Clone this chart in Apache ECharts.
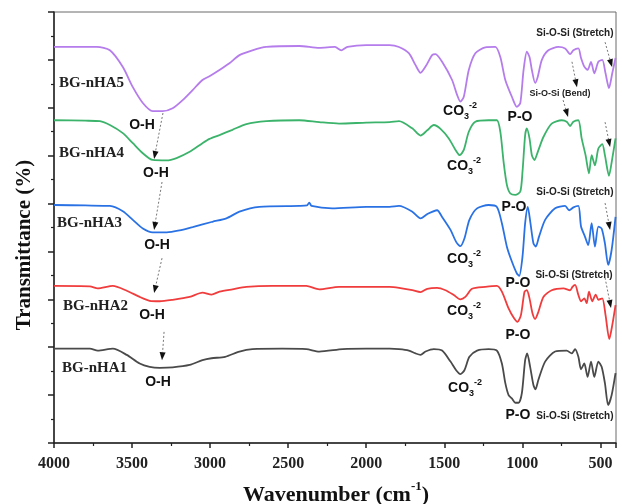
<!DOCTYPE html>
<html>
<head>
<meta charset="utf-8">
<script src="https://cdn.jsdelivr.net/npm/echarts/dist/echarts.min.js"></script>
<style>
  html, body { margin: 0; padding: 0; background: #fff; }
  #chart { width: 622px; height: 504px; }
</style>
</head>
<body>
<div id="chart"></div>
<script>
// FTIR spectra of the BG-nHA samples, stacked with vertical offsets.
// Each point: [wavenumber (cm^-1), transmittance (offset units)]
const bgnha5 = [[4000,8.27],[3800,8.27],[3725,8.27],[3642,8.20],[3559,7.85],[3495,7.43],[3431,7.10],[3368,6.93],[3304,6.93],[3240,6.99],[3176,7.16],[3112,7.37],[3049,7.58],[3004,7.66],[2940,7.79],[2876,7.93],[2812,8.10],[2729,8.20],[2640,8.27],[2429,8.29],[2301,8.25],[2200,8.27],[2160,8.20],[2120,8.27],[2000,8.31],[1850,8.31],[1790,8.27],[1727,8.14],[1684,7.89],[1652,7.73],[1620,7.86],[1578,8.10],[1556,8.12],[1514,7.96],[1450,7.58],[1418,7.27],[1397,7.13],[1375,7.23],[1343,7.79],[1301,8.14],[1237,8.26],[1173,8.27],[1141,8.06],[1109,7.58],[1067,7.23],[1035,7.02],[1013,7.10],[992,7.79],[971,8.17],[954,8.06],[939,7.79],[918,7.52],[901,7.65],[875,8.00],[833,8.20],[769,8.27],[726,8.24],[694,8.12],[673,8.20],[641,8.24],[624,8.04],[603,7.86],[582,7.79],[560,7.96],[539,7.72],[513,7.96],[488,8.00],[467,7.72],[445,7.41],[424,7.72],[403,8.04]];

const bgnha4 = [[4000,6.74],[3800,6.73],[3706,6.72],[3642,6.64],[3559,6.47],[3495,6.26],[3431,6.05],[3368,5.91],[3278,5.90],[3215,5.95],[3131,6.08],[3049,6.26],[3004,6.35],[2940,6.43],[2857,6.54],[2768,6.66],[2640,6.72],[2429,6.74],[2301,6.70],[2174,6.67],[2000,6.69],[1850,6.70],[1790,6.72],[1705,6.57],[1652,6.42],[1609,6.53],[1567,6.64],[1524,6.56],[1471,6.36],[1428,6.12],[1401,6.01],[1375,6.12],[1343,6.50],[1301,6.71],[1216,6.74],[1163,6.74],[1141,6.50],[1120,5.87],[1099,5.39],[1077,5.21],[1045,5.18],[1013,5.25],[999,5.66],[982,6.43],[971,6.57],[954,6.36],[939,6.01],[922,5.91],[901,6.08],[865,6.39],[812,6.67],[748,6.74],[716,6.71],[694,6.62],[673,6.71],[641,6.74],[620,6.36],[595,6.01],[573,5.63],[556,6.01],[535,5.80],[513,6.15],[488,6.24],[471,6.01],[445,5.58],[424,5.94],[403,6.36]];

const bgnha3 = [[4000,4.97],[3800,4.96],[3642,4.95],[3559,4.84],[3495,4.66],[3431,4.48],[3368,4.40],[3278,4.40],[3196,4.44],[3112,4.51],[2985,4.62],[2896,4.69],[2812,4.83],[2685,4.93],[2429,4.95],[2380,4.96],[2365,5.02],[2350,4.95],[2218,4.90],[2000,4.93],[1850,4.93],[1790,4.95],[1705,4.83],[1652,4.69],[1609,4.78],[1546,4.86],[1514,4.72],[1460,4.45],[1424,4.20],[1397,4.11],[1371,4.27],[1339,4.66],[1290,4.90],[1216,4.97],[1163,4.93],[1131,4.59],[1099,4.10],[1067,3.79],[1035,3.54],[1020,3.49],[999,3.89],[982,4.59],[965,4.93],[948,4.59],[929,4.17],[914,4.10],[893,4.31],[854,4.66],[790,4.90],[726,4.95],[700,4.86],[673,4.92],[641,4.95],[624,4.52],[599,4.31],[578,4.13],[556,4.59],[535,4.10],[513,4.52],[492,4.48],[471,4.17],[450,3.72],[428,4.03],[403,4.72]];

const bgnha2 = [[4000,3.28],[3770,3.27],[3720,3.23],[3623,3.28],[3534,3.18],[3451,3.05],[3387,2.97],[3323,2.96],[3240,2.99],[3131,3.05],[3049,3.14],[2991,3.10],[2940,3.16],[2857,3.21],[2768,3.26],[2602,3.28],[2384,3.28],[2301,3.21],[2174,3.26],[2000,3.26],[1850,3.26],[1790,3.24],[1705,3.19],[1652,3.15],[1609,3.22],[1546,3.24],[1492,3.19],[1439,3.09],[1397,3.00],[1365,3.05],[1322,3.22],[1237,3.26],[1163,3.28],[1131,3.16],[1088,2.81],[1056,2.62],[1031,2.53],[1009,2.67],[986,3.16],[971,3.19],[954,3.02],[935,2.71],[918,2.59],[897,2.74],[865,3.05],[812,3.19],[737,3.23],[694,3.19],[679,3.26],[662,3.30],[641,3.09],[624,2.96],[603,3.02],[588,2.92],[573,3.16],[552,2.96],[530,3.10],[513,2.99],[488,3.02],[467,2.67],[443,2.17],[424,2.46],[403,2.88]];

const bgnha1 = [[4000,1.97],[3770,1.97],[3720,1.93],[3623,1.97],[3534,1.84],[3451,1.66],[3387,1.59],[3323,1.57],[3240,1.58],[3131,1.63],[3049,1.73],[2991,1.77],[2904,1.80],[2812,1.91],[2729,1.96],[2538,1.97],[2384,1.96],[2301,1.91],[2150,1.96],[2000,1.97],[1850,1.97],[1790,1.96],[1727,1.93],[1684,1.87],[1652,1.84],[1620,1.91],[1567,1.96],[1514,1.93],[1460,1.70],[1424,1.52],[1397,1.44],[1371,1.52],[1339,1.80],[1290,1.93],[1216,1.96],[1163,1.93],[1131,1.66],[1109,1.25],[1088,1.00],[1067,0.93],[1045,0.84],[1024,0.84],[1003,1.04],[982,1.73],[969,1.87],[950,1.59],[929,1.21],[916,1.12],[897,1.32],[854,1.70],[790,1.91],[716,1.93],[684,1.87],[662,1.96],[641,1.80],[624,1.54],[603,1.66],[582,1.38],[560,1.70],[539,1.38],[513,1.70],[492,1.59],[471,1.25],[450,0.79],[428,1.00],[403,1.46]];

const sampleNames = ['BG-nHA1', 'BG-nHA2', 'BG-nHA3', 'BG-nHA4', 'BG-nHA5'];
const spectra = [bgnha1, bgnha2, bgnha3, bgnha4, bgnha5];
const lineColors = ['#4a4a4a', '#f03c3c', '#2a72e4', '#3bb36a', '#b57ceb'];

// Annotations, placed in data coordinates [wavenumber, transmittance]
const sampleTags = [['BG-nHA5', 3968, 7.52], ['BG-nHA4', 3968, 6.06], ['BG-nHA3', 3981, 4.59], ['BG-nHA2', 3942, 2.86], ['BG-nHA1', 3949, 1.57]];
const ohTags = [[3436, 6.64], [3347, 5.64], [3340, 4.13], [3372, 2.67], [3334, 1.27]];
const carbonateTags = [[1508, 6.93], [1482, 5.78], [1482, 3.84], [1482, 2.76], [1476, 1.15]];
const poTags = [[1015, 6.81], [1053, 4.93], [1028, 3.34], [1028, 2.26], [1028, 0.58]];
const siTags = [['Si-O-Si (Stretch)', 663, 8.56, 10], ['Si-O-Si (Bend)', 759, 7.29, 9], ['Si-O-Si (Stretch)', 663, 5.24, 10], ['Si-O-Si (Stretch)', 669, 3.51, 10], ['Si-O-Si (Stretch)', 663, 0.56, 10]];
// Arrows: [fromWn, fromT, toWn, toT]
const arrows = [
  [3302, 6.89, 3359, 5.93], [3308, 5.45, 3359, 4.45], [3308, 3.86, 3359, 3.13], [3295, 2.32, 3308, 1.73],
  [470, 8.37, 425, 7.85], [682, 7.96, 650, 7.43], [739, 7.16, 707, 6.81],
  [470, 6.70, 438, 6.18], [470, 5.01, 438, 4.45], [470, 3.45, 432, 2.82]
];

const chart = echarts.init(document.getElementById('chart'), null, { renderer: 'canvas' });

const serif = '"Liberation Serif", "Times New Roman", serif';
const sans = '"Liberation Sans", Arial, sans-serif';

chart.setOption({
  animation: false,
  backgroundColor: '#fff',
  grid: { left: 54, right: 6, top: 12, bottom: 61, show: true, borderColor: '#6a6a6a', borderWidth: 1 },
  xAxis: {
    type: 'value',
    min: -4000, max: -400, interval: 500,
    axisLine: { lineStyle: { color: '#222', width: 1.5 } },
    axisTick: { length: 5, lineStyle: { color: '#222', width: 1.5 } },
    minorTick: { show: true, splitNumber: 2, length: 3, lineStyle: { color: '#222', width: 1.2 } },
    splitLine: { show: false },
    axisLabel: {
      formatter: v => String(-v), showMaxLabel: false, margin: 13,
      fontFamily: serif, fontWeight: 'bold', fontSize: 16, color: '#222'
    }
  },
  yAxis: {
    type: 'value',
    min: 0, max: 9, interval: 1,
    axisLine: { lineStyle: { color: '#222', width: 1.5 } },
    axisTick: { length: 6, lineStyle: { color: '#222', width: 1.5 } },
    minorTick: { show: true, splitNumber: 2, length: 3, lineStyle: { color: '#222', width: 1.2 } },
    splitLine: { show: false },
    axisLabel: { show: false }
  },
  series: spectra.map((pts, i) => ({
    name: sampleNames[i],
    type: 'line',
    data: pts.map(p => [-p[0], p[1]]),
    showSymbol: false,
    smooth: 0.25,
    lineStyle: { color: lineColors[i], width: 1.8 },
    z: 3
  }))
});

function px(wn, t) { return chart.convertToPixel({ gridIndex: 0 }, [-wn, t]); }

const g = [];
// axis titles
g.push({
  type: 'text', x: 336, y: 493, z: 10,
  style: {
    text: '{t|Wavenumber (cm}{s|-1}{t|)}', align: 'center', verticalAlign: 'middle',
    rich: {
      t: { fontFamily: serif, fontWeight: 'bold', fontSize: 22, fill: '#111', lineHeight: 26, verticalAlign: 'bottom' },
      s: { fontFamily: serif, fontWeight: 'bold', fontSize: 13, fill: '#111', lineHeight: 26, verticalAlign: 'top' }
    }
  }
});
g.push({
  type: 'text', x: 25, y: 245, rotation: Math.PI / 2, z: 10,
  style: { text: 'Transmittance (%)', align: 'center', verticalAlign: 'middle', font: 'bold 21px ' + serif, fill: '#111' }
});

sampleTags.forEach(([txt, w, t]) => {
  const p = px(w, t);
  g.push({ type: 'text', x: p[0], y: p[1], z: 10, style: { text: txt, align: 'left', verticalAlign: 'middle', font: 'bold 15px ' + serif, fill: '#222' } });
});
ohTags.forEach(([w, t]) => {
  const p = px(w, t);
  g.push({ type: 'text', x: p[0], y: p[1], z: 10, style: { text: 'O-H', align: 'center', verticalAlign: 'middle', font: 'bold 14px ' + sans, fill: '#111' } });
});
poTags.forEach(([w, t]) => {
  const p = px(w, t);
  g.push({ type: 'text', x: p[0], y: p[1], z: 10, style: { text: 'P-O', align: 'center', verticalAlign: 'middle', font: 'bold 14px ' + sans, fill: '#111' } });
});
carbonateTags.forEach(([w, t]) => {
  const p = px(w, t);
  g.push({
    type: 'text', x: p[0], y: p[1], z: 10,
    style: {
      text: '{m|CO}{b|3}{u|-2}', align: 'left', verticalAlign: 'middle',
      rich: {
        m: { fontFamily: sans, fontWeight: 'bold', fontSize: 14, fill: '#111', lineHeight: 20 },
        b: { fontFamily: sans, fontWeight: 'bold', fontSize: 9, fill: '#111', lineHeight: 20, verticalAlign: 'bottom' },
        u: { fontFamily: sans, fontWeight: 'bold', fontSize: 9, fill: '#111', lineHeight: 20, verticalAlign: 'top' }
      }
    }
  });
});
siTags.forEach(([txt, w, t, fs]) => {
  const p = px(w, t);
  g.push({ type: 'text', x: p[0], y: p[1], z: 10, style: { text: txt, align: 'center', verticalAlign: 'middle', font: 'bold ' + fs + 'px ' + sans, fill: '#222' } });
});
arrows.forEach(([w1, t1, w2, t2]) => {
  const a = px(w1, t1), b = px(w2, t2);
  const dx = b[0] - a[0], dy = b[1] - a[1];
  const len = Math.hypot(dx, dy), ux = dx / len, uy = dy / len;
  const hl = 8, hw = 3;
  const bx = b[0] - ux * hl, by = b[1] - uy * hl;
  g.push({ type: 'line', z: 9, shape: { x1: a[0], y1: a[1], x2: bx, y2: by }, style: { stroke: '#777', lineWidth: 1, lineDash: [2, 2] } });
  g.push({ type: 'polygon', z: 9, shape: { points: [[b[0], b[1]], [bx - uy * hw, by + ux * hw], [bx + uy * hw, by - ux * hw]] }, style: { fill: '#111' } });
});

chart.setOption({ graphic: g });
</script>
</body>
</html>
